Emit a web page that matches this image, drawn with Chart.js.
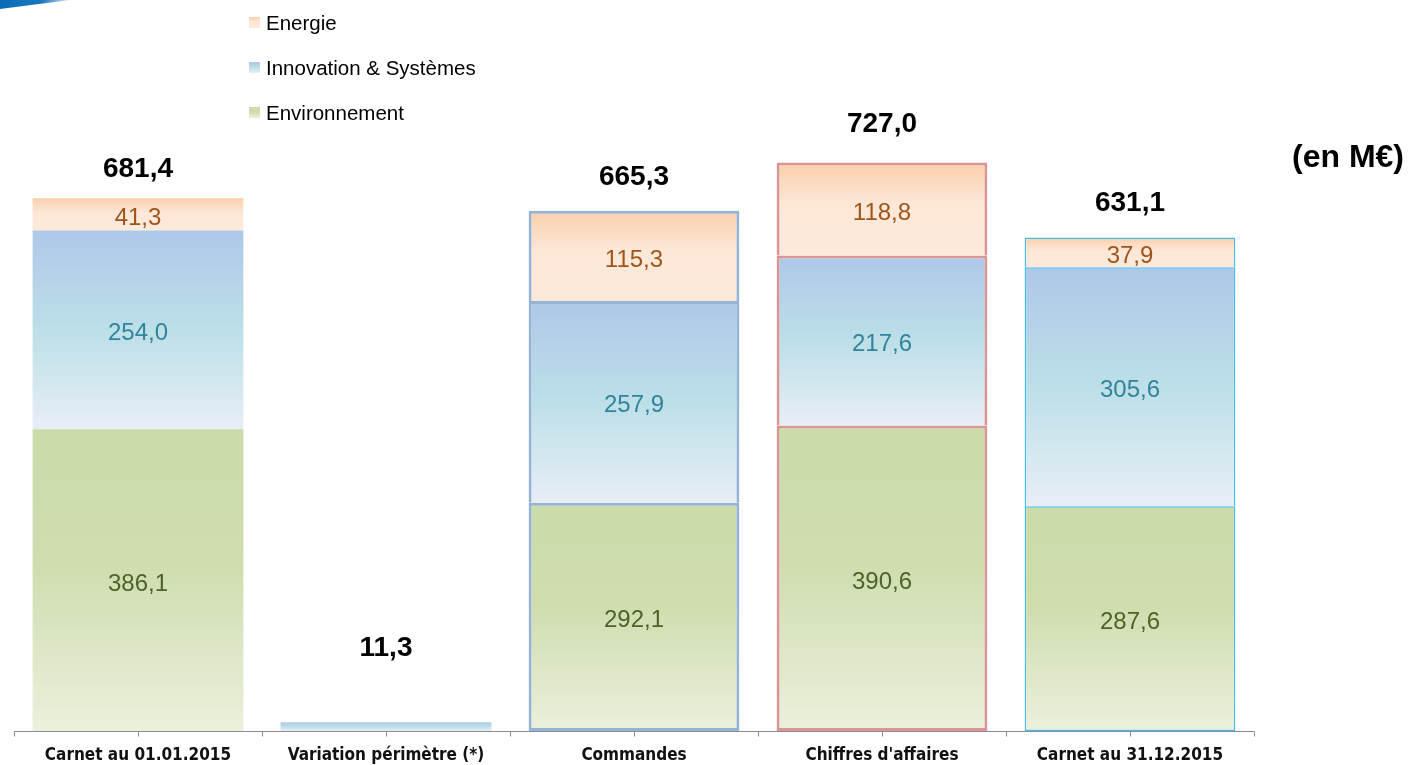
<!DOCTYPE html>
<html lang="fr">
<head>
<meta charset="utf-8">
<title>Carnet de commandes</title>
<script src="https://cdn.jsdelivr.net/npm/chart.js@4.4.1/dist/chart.umd.min.js"></script>
<style>
  body { margin: 0; background: #fff; font-family: "Liberation Sans", Arial, sans-serif; }
  #wrap { position: relative; width: 1409px; height: 765px; overflow: hidden; }
  #grafic { display: block; }
  #swoosh {
    position: absolute; left: 0; top: 0; width: 70px; height: 9px;
    background: linear-gradient(90deg, #0a6cb6 0%, #1a78c0 60%, rgba(60,140,210,0.2) 100%);
    clip-path: polygon(0 0, 100% 0, 0 100%);
  }
  #legend { position: absolute; left: 249px; top: 11px; }
  .item { height: 45px; display: flex; align-items: flex-start; font-size: 20.5px; color: #000; }
  .item span.box { width: 11px; height: 11px; margin: 6px 6px 0 0; }
  #unit { position: absolute; right: 5px; top: 138px; font-weight: bold; font-size: 32px; color: #000; }
</style>
</head>
<body>
<div id="wrap">
  <div id="swoosh"></div>
  <canvas id="grafic" width="1409" height="765"></canvas>
  <div id="legend"></div>
  <div id="unit">(en M€)</div>
</div>
<script>
// données (en M€)
let categories = ["Carnet au 01.01.2015", "Variation périmètre (*)", "Commandes", "Chiffres d'affaires", "Carnet au 31.12.2015"];
let environnement = [386.1, null, 292.1, 390.6, 287.6];
let innovation = [254.0, 11.3, 257.9, 217.6, 305.6];
let energie = [41.3, null, 115.3, 118.8, 37.9];

// style
let barBorderColor = ["rgba(0,0,0,0)", "rgba(0,0,0,0)", "#95b3d7", "#d99694", "#45bde8"];
let barBorderWidth = [0, 0, 3, 3, 1.5];
let totalLift = [29, 74, 34, 38, 34];

const gradEnv = [[0, "#ccdbaa"], [0.45, "#cfddaf"], [1, "#ebf0dc"]];
const gradInno = [[0, "#aec8e8"], [0.5, "#bcdfe8"], [1, "#e8eef6"]];
const gradEner = [[0, "#f9cfab"], [0.45, "#fde8d8"], [1, "#fde9da"]];

function fmt(v) {
  return v.toFixed(1).replace(".", ",");
}

function segmentGradient(stops) {
  return function (ctx) {
    const chart = ctx.chart;
    if (!chart.chartArea || ctx.type !== "data") return stops[0][1];
    let base = 0;
    for (let d = 0; d < ctx.datasetIndex; d++) {
      base += chart.data.datasets[d].data[ctx.dataIndex] || 0;
    }
    const top = chart.scales.y.getPixelForValue(base + (ctx.raw || 0));
    const bottom = chart.scales.y.getPixelForValue(base);
    if (bottom - top < 1) return stops[0][1];
    const g = chart.ctx.createLinearGradient(0, top, 0, bottom);
    stops.forEach((s) => g.addColorStop(s[0], s[1]));
    return g;
  };
}

// legend html
let legendItems = [
  { label: "Energie", stops: gradEner },
  { label: "Innovation & Systèmes", stops: gradInno },
  { label: "Environnement", stops: gradEnv },
];
document.querySelector("#legend").innerHTML = legendItems
  .map((it) => {
    const css = it.stops.map((s) => `${s[1]} ${s[0] * 100}%`).join(", ");
    return `<div class="item"><span class="box" style="background:linear-gradient(180deg, ${css})"></span>${it.label}</div>`;
  })
  .join("");

// axe du bas : ligne grise + graduation à chaque demi-catégorie
const axisPlugin = {
  id: "axisLine",
  beforeDatasetsDraw(chart) {
    const c = chart.ctx;
    const xs = chart.scales.x;
    const y0 = Math.round(chart.scales.y.getPixelForValue(0)) + 0.5;
    const half = (xs.getPixelForValue(1) - xs.getPixelForValue(0)) / 2;
    const start = xs.getPixelForValue(0) - half;
    const end = xs.getPixelForValue(categories.length - 1) + half;
    c.save();
    c.strokeStyle = "#8c8c8c";
    c.lineWidth = 1;
    c.beginPath();
    c.moveTo(start, y0);
    c.lineTo(end, y0);
    for (let k = 0; k <= categories.length * 2; k++) {
      const x = Math.round(start + half * k) + 0.5;
      c.moveTo(x, y0);
      c.lineTo(x, y0 + 5);
    }
    c.stroke();
    c.restore();
  },
};

// étiquettes de valeurs
const labelPlugin = {
  id: "valueLabels",
  afterDatasetsDraw(chart) {
    const c = chart.ctx;
    c.save();
    c.textAlign = "center";
    c.textBaseline = "middle";
    const tops = [];
    chart.data.datasets.forEach((ds, d) => {
      const meta = chart.getDatasetMeta(d);
      meta.data.forEach((el, i) => {
        const v = ds.data[i];
        if (v == null) return;
        tops[i] = tops[i] == null ? el.y : Math.min(tops[i], el.y);
        if (el.base - el.y < 20) return;
        c.font = "24px 'Liberation Sans', Arial, sans-serif";
        c.fillStyle = ds.labelColor;
        c.fillText(fmt(v), el.x, (el.y + el.base) / 2 + 4);
      });
    });
    const xScale = chart.scales.x;
    categories.forEach((cat, i) => {
      const total = (environnement[i] || 0) + (innovation[i] || 0) + (energie[i] || 0);
      c.font = "bold 28px 'Liberation Sans', Arial, sans-serif";
      c.fillStyle = "#000";
      c.fillText(fmt(total), xScale.getPixelForValue(i), tops[i] - totalLift[i]);
    });
    c.restore();
  },
};

const ctx = document.getElementById("grafic").getContext("2d");
let grafic = new Chart(ctx, {
  type: "bar",
  data: {
    labels: categories,
    datasets: [
      {
        label: "Environnement",
        data: environnement,
        backgroundColor: segmentGradient(gradEnv),
        borderColor: barBorderColor,
        borderWidth: barBorderWidth,
        borderSkipped: false,
        labelColor: "#4f6228",
      },
      {
        label: "Innovation & Systèmes",
        data: innovation,
        backgroundColor: segmentGradient(gradInno),
        borderColor: barBorderColor,
        borderWidth: barBorderWidth,
        borderSkipped: "bottom",
        labelColor: "#31849b",
      },
      {
        label: "Energie",
        data: energie,
        backgroundColor: segmentGradient(gradEner),
        borderColor: barBorderColor,
        borderWidth: barBorderWidth,
        borderSkipped: "bottom",
        labelColor: "#a0541a",
      },
    ],
  },
  options: {
    responsive: false,
    maintainAspectRatio: false,
    animation: false,
    layout: { padding: { left: 14, right: 155, top: 0, bottom: 1 } },
    datasets: {
      bar: { categoryPercentage: 1, barPercentage: 0.85 },
    },
    plugins: {
      legend: { display: false },
      tooltip: { enabled: false },
    },
    scales: {
      x: {
        stacked: true,
        grid: { display: false, drawTicks: false },
        border: { display: false },
        afterFit(scale) {
          scale.height = 33;
        },
        ticks: {
          padding: 14,
          color: "#111",
          maxRotation: 0,
          autoSkip: false,
          font: { family: "'DejaVu Sans Condensed', 'Liberation Sans Narrow', sans-serif", size: 17, weight: "bold" },
        },
      },
      y: {
        stacked: true,
        display: false,
        min: 0,
        max: 935,
      },
    },
  },
  plugins: [axisPlugin, labelPlugin],
});
</script>
</body>
</html>
